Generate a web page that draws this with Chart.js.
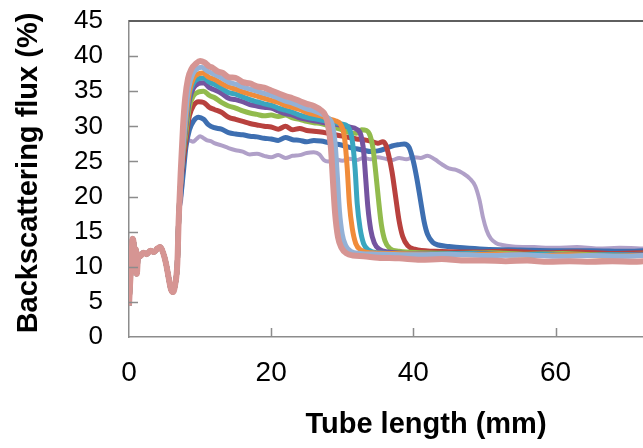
<!DOCTYPE html>
<html>
<head>
<meta charset="utf-8">
<script src="https://cdn.jsdelivr.net/npm/chart.js@4.4.1/dist/chart.umd.min.js"></script>
<style>
    html, body { margin: 0; padding: 0; background: #fff; }
    #wrap { width: 643px; height: 448px; position: relative; }
</style>
</head>
<body>
<div id="wrap"><canvas id="fluxChart"></canvas></div>
<script>
// shared start of every profile (tube bottom, all curves overlap here)
const startPts = [[0,4.5],[0.15,7.5],[0.35,11],[0.5,14],[0.65,13.5],[0.8,9.5],[0.95,12.5],[1.1,9],[1.3,11.8],[1.6,11.5],[2.0,12],[2.5,11.8],[3.0,12.3],[3.5,12.1],[4.0,12.6],[4.4,12.8],[4.8,12],[5.2,10.5],[5.6,8.3],[5.9,6.8],[6.2,6.4],[6.5,7.5],[6.8,10.5],[7.0,17]];

const pinkPts = [[7.3,24],[7.6,30],[7.9,34],[8.3,36.8],[8.8,38.2],[9.4,38.9],[10.0,39.3],[10.6,39.1],[11.2,38.6],[11.8,38.3],[12.5,37.8],[13.2,37.6],[14,37.0],[15,36.9],[16,36.3],[17,36.1],[18,35.7],[19,35.5],[20,35.1],[21,34.7],[22,34.3],[23,34.0],[24,33.6],[25,33.2],[26,32.9],[27,32.3],[27.6,31.6],[28.0,30.2],[28.4,27],[28.7,22],[29.0,17.5],[29.4,14.2],[29.9,12.7],[30.6,11.9],[31.5,11.6],[33,11.5],[35,11.3],[38,11.2],[41,11.0],[44,11.1],[47,10.9],[50,10.9],[53,10.8],[56,10.9],[59,10.7],[62,10.8],[65,10.7],[68,10.8],[71,10.7],[72.5,10.8]];

const lightBluePts = [[7.4,24],[8.0,32],[8.4,35.5],[9.0,37.5],[9.6,38.2],[10.2,38.4],[11,37.9],[12,37.4],[13,36.9],[14,36.3],[15,36.0],[16,35.6],[17,35.3],[18,35.0],[19,34.7],[20,34.4],[21,34.0],[22,33.6],[23,33.3],[24,32.9],[25,32.5],[26,32.2],[27,31.8],[28,31.2],[28.6,30.2],[29.0,27.5],[29.3,23],[29.6,18],[30.0,14.6],[30.5,13],[31.2,12.2],[32.5,11.9],[35,11.8],[40,11.7],[45,11.8],[50,11.6],[55,11.7],[60,11.5],[65,11.6],[70,11.5],[72.5,11.6]];

const orangePts = [[7.4,24],[8.0,31],[8.5,35],[9.1,36.9],[9.8,37.5],[10.4,37.6],[11.2,37.0],[12,36.7],[13,36.1],[14,35.6],[15,35.3],[16,34.9],[17,34.6],[18,34.3],[19,34.0],[20,33.7],[21,33.4],[22,33.0],[23,32.7],[24,32.4],[25,32.0],[26,31.7],[27,31.5],[28,31.1],[29,30.8],[29.8,30.2],[30.3,28.5],[30.7,24],[31.0,19],[31.4,15.5],[31.9,13.3],[32.6,12.4],[34,12.0],[37,11.9],[42,11.8],[47,11.7],[52,11.8],[57,11.6],[62,11.7],[67,11.5],[72.5,11.6]];

const tealPts = [[7.4,24],[8.0,30.5],[8.5,34.5],[9.1,36.2],[9.8,36.8],[10.5,36.9],[11.3,36.3],[12,36.0],[13,35.4],[14,34.8],[15,34.6],[16,34.2],[17,33.8],[18,33.5],[19,33.2],[20,33.0],[21,32.6],[22,32.3],[23,32.0],[24,31.6],[25,31.3],[26,31.1],[27,30.9],[28,30.7],[29,30.5],[30,30.3],[30.9,29.8],[31.4,28],[31.8,24],[32.1,19],[32.5,15.5],[33.0,13.3],[33.7,12.4],[35,12.0],[38,11.9],[43,11.8],[48,11.9],[53,11.7],[58,11.8],[63,11.6],[68,11.7],[72.5,11.6]];

const purplePts = [[7.4,24],[8.0,30],[8.5,33.8],[9.1,35.5],[9.8,36.1],[10.5,36.2],[11.3,35.5],[12,35.2],[13,34.7],[14,34.0],[15,33.8],[16,33.5],[17,33.1],[18,32.9],[19,32.7],[20,32.6],[21,32.2],[22,31.8],[23,31.6],[24,31.2],[25,31.0],[26,30.8],[27,30.6],[28,30.4],[29,30.3],[30,30.1],[31,29.9],[32,29.6],[32.6,28.8],[33.0,26.5],[33.3,22.5],[33.6,18.5],[34.0,15.3],[34.5,13.4],[35.2,12.5],[36.5,12.1],[39,11.9],[44,11.8],[49,11.9],[54,11.7],[59,11.8],[64,11.6],[69,11.7],[72.5,11.7]];

const greenPts = [[7.4,24],[8.0,29],[8.5,32.8],[9.1,34.4],[9.8,34.9],[10.5,35.0],[11.3,34.4],[12,34.1],[13,33.4],[14,32.9],[15,32.6],[16,32.2],[17,31.9],[18,31.7],[19,31.5],[20,31.6],[21,31.4],[22,31.6],[23,31.2],[24,31.0],[25,30.7],[26,30.5],[27,30.4],[28,30.1],[29,29.8],[30,29.5],[31,29.1],[32,29.0],[32.7,29.5],[33.4,29.4],[33.9,28.7],[34.3,27],[34.7,23.5],[35.1,19.5],[35.5,16],[36.0,13.7],[36.7,12.6],[38,12.2],[41,12.0],[46,11.9],[51,12.0],[56,11.8],[61,11.9],[66,11.7],[72.5,11.8]];

const redPts = [[7.4,23],[8.0,28],[8.5,31.5],[9.1,33.0],[9.8,33.5],[10.5,33.4],[11.3,32.7],[12,32.4],[13,32.0],[14,31.3],[15,31.0],[16,30.7],[17,30.4],[18,30.2],[19,30.0],[20,29.9],[21,29.6],[22,30.0],[23,29.5],[24,29.7],[25,29.4],[26,29.3],[27,29.2],[28,29.0],[29,28.8],[30,28.6],[31,28.4],[32,28.2],[33,28.1],[34,27.9],[35,27.6],[35.7,27.8],[36.1,27.4],[36.5,26],[37.0,23.5],[37.5,20],[38.0,16.5],[38.5,14.3],[39.2,13.0],[40.2,12.5],[43,12.2],[48,12.1],[53,12.2],[58,12.0],[63,12.1],[68,11.9],[72.5,12.0]];

const bluePts = [[7.4,21],[7.7,24],[8.0,27],[8.5,29.5],[9.1,30.8],[9.8,31.3],[10.5,31.0],[11.2,30.2],[12,29.8],[13,29.6],[14,29.1],[15,28.9],[16,28.8],[17,28.6],[18,28.5],[19,28.3],[20,28.2],[21,28.0],[22,28.4],[23,28.1],[24,28.0],[25,27.8],[26,28.0],[27,27.9],[28,27.7],[29,27.5],[30,27.3],[31,27.0],[32,26.8],[33,26.6],[34,26.4],[35,26.5],[36,26.8],[37,27.2],[38,27.4],[38.7,27.5],[39.4,27.0],[40.0,25.0],[40.5,22.5],[41.0,19.5],[41.5,16.5],[42.0,14.6],[42.7,13.5],[43.5,13.1],[45,12.9],[47,12.7],[50,12.5],[55,12.4],[60,12.3],[65,12.3],[70,12.2],[72.5,12.3]];

const lilacPts = [[7.4,20],[7.7,26],[8.0,27.8],[8.5,28.0],[9.0,27.8],[9.5,28.2],[10.0,28.6],[10.5,28.3],[11.0,28.0],[11.5,27.9],[12,27.6],[13,27.3],[14,26.9],[15,26.6],[16,26.4],[17,26.0],[18,26.1],[19,25.8],[20,25.6],[21,25.9],[22,25.5],[23,25.8],[24,25.9],[25,26.2],[26,26.3],[26.8,26.0],[27.4,25.2],[28,25.0],[29,25.3],[30,25.1],[31,25.4],[32,25.2],[33,25.5],[34,25.3],[35,25.6],[36,25.4],[37,25.2],[38,25.5],[39,25.3],[40,25.6],[41,25.5],[42,25.8],[43,25.3],[44,24.6],[45,24.0],[46,23.8],[47,23.3],[48,22.5],[48.7,21.5],[49.3,19.5],[49.8,17],[50.3,15.2],[50.9,14],[51.6,13.4],[52.5,13.1],[54,12.9],[57,12.8],[60,12.7],[63,12.8],[66,12.6],[69,12.7],[72.5,12.6]];

const xTicks = [0, 20, 40, 60];
const yTicks = [0, 5, 10, 15, 20, 25, 30, 35, 40, 45];

// first entry is drawn on top
const series = [
    { pts: pinkPts, color: '#d69593', width: 6 },
    { pts: lightBluePts, color: '#93b1d6', width: 5 },
    { pts: orangePts, color: '#f08c3a', width: 5 },
    { pts: tealPts, color: '#3aa6bf', width: 5 },
    { pts: purplePts, color: '#7454a0', width: 5 },
    { pts: greenPts, color: '#92bb4d', width: 5 },
    { pts: redPts, color: '#b8413e', width: 5 },
    { pts: bluePts, color: '#3e6fb1', width: 5 },
    { pts: lilacPts, color: '#b0a0c8', width: 4 }
];

const FONT = '"Liberation Sans", Arial, sans-serif';
const AXIS = '#8c8c8c';

const datasets = series.map(s => ({
    data: startPts.concat(s.pts).map(p => ({ x: p[0], y: p[1] })),
    borderColor: s.color,
    borderWidth: s.width,
    pointRadius: 0,
    fill: false,
    cubicInterpolationMode: 'monotone'
}));

// inward tick marks, top frame line and axis titles
const extras = {
    id: 'extras',
    afterDraw(chart) {
        const { ctx, chartArea: a, scales: { x, y } } = chart;
        ctx.save();
        ctx.strokeStyle = AXIS;
        ctx.lineWidth = 1.5;
        ctx.beginPath();
        yTicks.slice(1, -1).forEach(v => {
            const py = Math.round(y.getPixelForValue(v)) + 0.5;
            ctx.moveTo(a.left, py);
            ctx.lineTo(a.left + 9, py);
        });
        xTicks.slice(1).forEach(v => {
            const px = Math.round(x.getPixelForValue(v)) + 0.5;
            ctx.moveTo(px, a.bottom);
            ctx.lineTo(px, a.bottom - 9);
        });
        ctx.stroke();

        ctx.strokeStyle = '#5f5f5f';
        ctx.lineWidth = 2;
        ctx.beginPath();
        ctx.moveTo(a.left, a.top);
        ctx.lineTo(a.right, a.top);
        ctx.stroke();

        ctx.fillStyle = '#000';
        ctx.font = 'bold 29px ' + FONT;
        ctx.textAlign = 'center';
        ctx.textBaseline = 'alphabetic';
        ctx.fillText('Tube length (mm)', 426, 433);

        ctx.translate(37, 173);
        ctx.rotate(-Math.PI / 2);
        ctx.fillText('Backscattering flux (%)', 0, 0);
        ctx.restore();
    }
};

new Chart(document.getElementById('fluxChart'), {
    type: 'line',
    data: { datasets },
    options: {
        responsive: true,
        maintainAspectRatio: false,
        animation: false,
        events: [],
        layout: { padding: { left: 0, right: 0, top: 21, bottom: 0 } },
        plugins: { legend: { display: false }, tooltip: { enabled: false } },
        scales: {
            x: {
                type: 'linear',
                min: 0,
                max: 72.3,
                afterBuildTicks: s => { s.ticks = xTicks.map(v => ({ value: v })); },
                afterFit: s => { s.height = 111; s.paddingLeft = 0; s.paddingRight = 0; },
                grid: { drawOnChartArea: false, drawTicks: false },
                border: { color: AXIS, width: 1.5 },
                ticks: { color: '#000', padding: 19, autoSkip: false, maxRotation: 0, font: { family: FONT, size: 28 } }
            },
            y: {
                min: 0,
                max: 45,
                afterBuildTicks: s => { s.ticks = yTicks.map(v => ({ value: v })); },
                afterFit: s => { s.width = 129; s.paddingTop = 0; s.paddingBottom = 0; },
                grid: { drawOnChartArea: false, drawTicks: false },
                border: { color: AXIS, width: 1.5 },
                ticks: { color: '#000', padding: 26, autoSkip: false, font: { family: FONT, size: 26 } }
            }
        }
    },
    plugins: [extras]
});
</script>
</body>
</html>
